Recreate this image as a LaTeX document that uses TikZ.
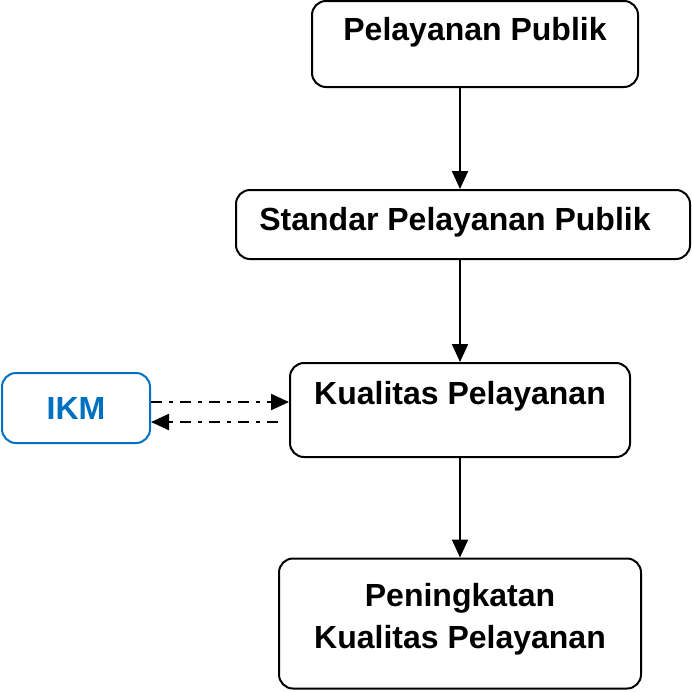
\documentclass[tikz,border=0pt]{standalone}
\usepackage{fontspec}
\setmainfont{Liberation Sans}
\usetikzlibrary{arrows.meta,calc}
\definecolor{ikmblue}{RGB}{0,112,192}
\begin{document}
\begin{tikzpicture}[x=1pt,y=-1pt,
    box/.style={draw,line width=2pt,rounded corners=14pt,inner sep=0pt},
    txt/.style={font=\fontsize{32}{42}\selectfont\bfseries,align=center,inner sep=0pt},
    flow/.style={line width=2.2pt,-{Triangle[length=18pt,width=16pt]}},
    back/.style={line width=2.2pt,dash pattern=on 11pt off 7pt on 4pt off 7pt,-{Triangle[length=18pt,width=16pt]}}]
  \useasboundingbox (0,0) rectangle (692,691);
  \node[box,minimum width=326pt,minimum height=86pt] (publik) at (475,44) {};
  \node[box,minimum width=454pt,minimum height=69pt] (standar) at (463,224.5) {};
  \node[box,minimum width=340pt,minimum height=94pt] (kualitas) at (460,410) {};
  \node[box,minimum width=362pt,minimum height=130pt] (peningkatan) at (460,623.5) {};
  \node[box,draw=ikmblue,minimum width=148pt,minimum height=70pt] (ikm) at (76,408) {};
  \node[txt] (publik-t) at (475,32) {Pelayanan Publik};
  \node[txt] (standar-t) at (455,222) {Standar Pelayanan Publik};
  \node[txt] (kualitas-t) at (460,396) {Kualitas Pelayanan};
  \node[txt] (peningkatan-t) at (460,619) {Peningkatan\\Kualitas Pelayanan};
  \node[txt,text=ikmblue] (ikm-t) at (76,408) {IKM};
  \draw[flow] (publik.south -| kualitas) -- (standar.north -| kualitas);
  \draw[flow] (standar.south -| kualitas) -- (kualitas.north);
  \draw[flow] (kualitas.south) -- (peningkatan.north);
  \draw[back] ([yshift=6pt]ikm.east) -- ([yshift=6pt]ikm.east -| kualitas.west);
  \draw[back] ([xshift=-11pt,yshift=-14pt]ikm.east -| kualitas.west) -- ([yshift=-14pt]ikm.east);
\end{tikzpicture}
\end{document}
